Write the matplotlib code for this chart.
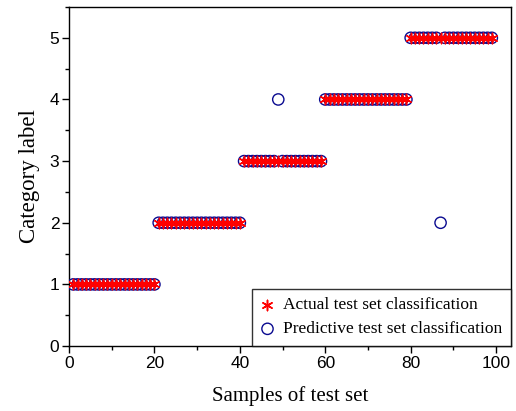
import numpy as np
import matplotlib
matplotlib.use('Agg')
import matplotlib.pyplot as plt
from matplotlib.ticker import MultipleLocator

# muestras y clases
samples = np.arange(1, 100)
actual = np.array([1] * 20 + [2] * 20 + [3] * 19 + [4] * 20 + [5] * 20)
predicted = actual.copy()
predicted[49 - 1] = 4   # muestra 49 mal clasificada
predicted[87 - 1] = 2   # muestra 87 mal clasificada

fig = plt.figure(figsize=(5.16, 4.11), dpi=100)
ax = fig.add_axes([0.1337, 0.158, 0.8567, 0.825])

ax.scatter(samples, predicted, marker='o', s=66, facecolors='none', edgecolors='#0a0a90',
           linewidths=1.0, label='Predictive test set classification', zorder=3)
ax.scatter(samples, actual, marker=(6, 2, 0), s=55, color='#ff0000', linewidths=1.1,
           label='Actual test set classification', zorder=4)

ax.set_xlim(0, 103.5)
ax.set_ylim(0, 5.5)
ax.xaxis.set_major_locator(MultipleLocator(20))
ax.xaxis.set_minor_locator(MultipleLocator(10))
ax.yaxis.set_major_locator(MultipleLocator(1))
ax.yaxis.set_minor_locator(MultipleLocator(0.5))
ax.tick_params(which='major', direction='out', length=5, width=1, labelsize=12.5, pad=2)
ax.tick_params(which='minor', direction='out', length=3, width=1)
for lbl in ax.get_xticklabels() + ax.get_yticklabels():
    lbl.set_family('Liberation Sans')
for s in ax.spines.values():
    s.set_linewidth(1)

ax.set_xlabel('Samples of test set', family='Liberation Serif', fontsize=15, labelpad=11)
ax.set_ylabel('Category label', family='Liberation Serif', fontsize=16.5, labelpad=7)

# orden de la leyenda: real primero
h, l = ax.get_legend_handles_labels()
leg = ax.legend(h[::-1], l[::-1], loc='lower right', bbox_to_anchor=(1.0, 0.0),
                borderaxespad=0, prop={'family': 'Liberation Serif', 'size': 12.5},
                frameon=True, fancybox=False, handletextpad=0.5, handlelength=0.8,
                borderpad=0.5, labelspacing=0.45)
leg.get_frame().set_edgecolor('black')
leg.get_frame().set_linewidth(1)

plt.savefig('out.png', dpi=100)
